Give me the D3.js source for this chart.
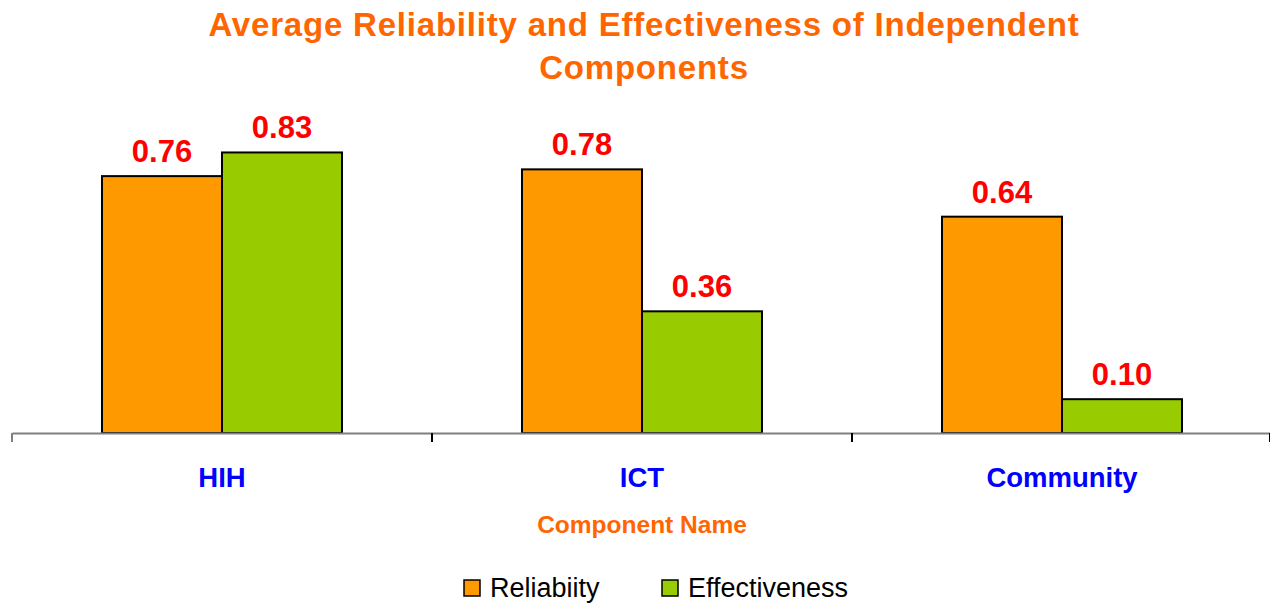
<!DOCTYPE html>
<html><head><meta charset="utf-8">
<script src="https://cdn.jsdelivr.net/npm/d3@7"></script>
<style>body{margin:0;background:#fff}svg{display:block}</style>
</head><body>
<svg id="c" width="1270" height="604"></svg>
<script>
const categories = ["HIH", "ICT", "Community"];
const seriesNames = ["Reliabiity", "Effectiveness"];
const reliability = [0.76, 0.78, 0.64];
const effectiveness = [0.83, 0.36, 0.10];
const colors = ["#FF9900", "#99CC00"];
const titleLines = ["Average Reliability and Effectiveness of Independent", "Components"];
const xTitle = "Component Name";

const svg = d3.select("#c");
const font = "Arial, 'Liberation Sans', sans-serif";
const x0 = d3.scaleBand().domain(categories).range([12, 1272]).paddingInner(0).paddingOuter(0);
const x1 = d3.scaleBand().domain(seriesNames).range([90, x0.bandwidth() - 90]);
const y = d3.scaleLinear().domain([0, 1]).range([433, 95]);

const data = categories.map((c, i) => ({cat: c, vals: [reliability[i], effectiveness[i]]}));

// title
svg.append("text").attr("text-anchor", "middle")
  .style("font-family", font).style("font-weight", "bold").style("font-size", "33px")
  .style("letter-spacing", "0.8px").attr("fill", "#FF6600")
  .selectAll("tspan").data(titleLines).join("tspan")
  .attr("x", 644).attr("y", (d, i) => 36 + i * 43).text(d => d);

// bars
const g = svg.append("g");
data.forEach(d => {
  d.vals.forEach((v, j) => {
    const bx = x0(d.cat) + x1(seriesNames[j]);
    g.append("rect").attr("x", bx).attr("y", y(v)).attr("width", x1.bandwidth()).attr("height", y(0) - y(v))
      .attr("fill", colors[j]).attr("stroke", "#000").attr("stroke-width", 2);
    g.append("text").attr("x", bx + x1.bandwidth() / 2).attr("y", y(v) - 14)
      .attr("text-anchor", "middle").style("font-family", font).style("font-weight", "bold")
      .style("font-size", "31px").attr("fill", "#FF0000").text(v.toFixed(2));
  });
});

// axis
const axis = d3.axisBottom(x0).tickSize(0).tickFormat("");
const ax = svg.append("g").attr("transform", "translate(0,433)").call(axis);
ax.select(".domain").attr("stroke", "#808080").attr("stroke-width", 2);
const tickXs = categories.map(c => x0(c)).concat([x0.range()[1] - 2]);
ax.selectAll(".tk").data(tickXs).join("line").attr("class", "tk")
  .attr("x1", d => d).attr("x2", d => d).attr("y1", 0).attr("y2", 9)
  .attr("stroke", (d, i) => i === 0 ? "#808080" : "#000").attr("stroke-width", 2);

svg.selectAll(".cat").data(categories).join("text").attr("class", "cat")
  .attr("x", d => x0(d) + x0.bandwidth() / 2).attr("y", 487).attr("text-anchor", "middle")
  .style("font-family", font).style("font-weight", "bold").style("font-size", "27.5px").attr("fill", "#0000FF").text(d => d);

svg.append("text").attr("x", 642).attr("y", 533).attr("text-anchor", "middle")
  .style("font-family", font).style("font-weight", "bold").style("font-size", "24.5px").attr("fill", "#FF6600").text(xTitle);

// legend
const legX = [464, 662];
seriesNames.forEach((s, i) => {
  svg.append("rect").attr("x", legX[i]).attr("y", 580).attr("width", 16).attr("height", 16)
    .attr("fill", colors[i]).attr("stroke", "#000").attr("stroke-width", 1.5);
  svg.append("text").attr("x", legX[i] + 26).attr("y", 597)
    .style("font-family", font).style("font-size", "27px").attr("fill", "#000").text(s);
});
</script>
</body></html>
